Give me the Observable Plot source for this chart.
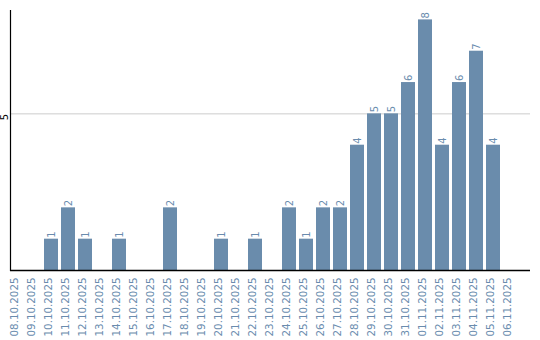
<!DOCTYPE html>
<html>
<head>
<meta charset="utf-8">
<script src="https://cdn.jsdelivr.net/npm/d3@7"></script>
<script src="https://cdn.jsdelivr.net/npm/@observablehq/plot@0.6"></script>
<style>
  html, body { margin: 0; padding: 0; background: #fff; }
</style>
</head>
<body>
<div id="chart"></div>
<script>
const dates = [
  "08.10.2025","09.10.2025","10.10.2025","11.10.2025","12.10.2025","13.10.2025",
  "14.10.2025","15.10.2025","16.10.2025","17.10.2025","18.10.2025","19.10.2025",
  "20.10.2025","21.10.2025","22.10.2025","23.10.2025","24.10.2025","25.10.2025",
  "26.10.2025","27.10.2025","28.10.2025","29.10.2025","30.10.2025","31.10.2025",
  "01.11.2025","02.11.2025","03.11.2025","04.11.2025","05.11.2025","06.11.2025"
];
const counts = [0,0,1,2,1,0,1,0,0,2,0,0,1,0,1,0,2,1,2,2,4,5,5,6,8,4,6,7,4,0];
const yTicks = [5];

const data = dates.map((d, i) => ({date: d, value: counts[i]}));
const blue = "#6a8cac";
const textBlue = "#6a8cae";

const chart = Plot.plot({
  width: 540,
  height: 340,
  marginLeft: 10,
  marginRight: 10,
  marginTop: 10,
  marginBottom: 70,
  style: {fontFamily: "DejaVu Sans", fontSize: "10px", background: "#fff"},
  x: {type: "band", domain: dates, paddingInner: 0.176, paddingOuter: 0.382, align: 0, axis: null},
  y: {domain: [0, 8.3], axis: null},
  marks: [
    Plot.gridY(yTicks, {stroke: "#cccccc", strokeOpacity: 1}),
    Plot.barY(data, {x: "date", y: "value", fill: blue}),
    Plot.ruleY([0], {stroke: "#000", strokeWidth: 1.7}),
    Plot.frame({anchor: "left", stroke: "#000", strokeWidth: 1.2}),
    Plot.text(yTicks, {y: d => d, frameAnchor: "left", dx: -5.5, rotate: -90, textAnchor: "end", fill: "#000", fontSize: 10, text: d => String(d)}),
    Plot.text(dates, {x: d => d, frameAnchor: "bottom", dy: 7, rotate: -90, textAnchor: "end", fill: textBlue, fontSize: 10.3, text: d => d}),
    Plot.text(data.filter(d => d.value > 0), {x: "date", y: "value", dy: -1.5, rotate: -90, textAnchor: "start", fill: textBlue, fontSize: 10, text: d => String(d.value)})
  ]
});
document.getElementById("chart").appendChild(chart);
</script>
</body>
</html>
